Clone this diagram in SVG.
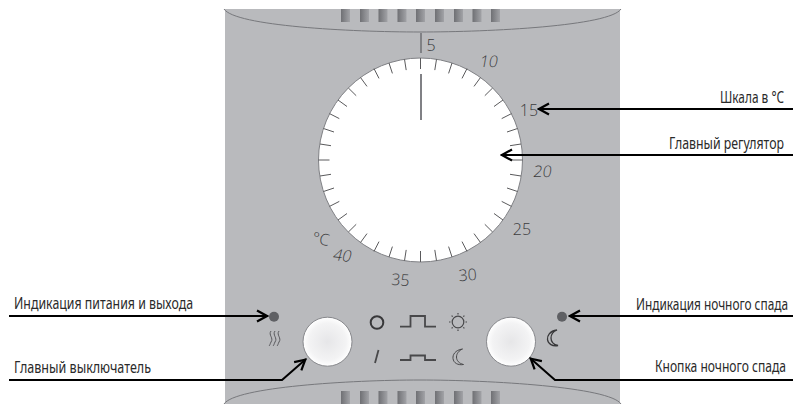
<svg xmlns="http://www.w3.org/2000/svg" width="806" height="420" viewBox="0 0 806 420">
<style>
.lb{font-family:"Noto Sans","Open Sans",sans-serif;font-size:16px;fill:#2a2a2a}
.n{font-family:"Open Sans","Noto Sans",sans-serif;font-weight:300;font-size:16px;fill:#3c3c3e;text-anchor:middle}
.c{fill:none;stroke:#000;stroke-width:2}
.i{fill:none;stroke:#48484a;stroke-width:1.2;stroke-linejoin:round}
.curve{fill:none;stroke:#77787c;stroke-width:1}
</style>
<defs>
<linearGradient id="slot" x1="0" x2="1" y1="0" y2="0"><stop offset="0" stop-color="#6f7074"/><stop offset="1" stop-color="#a2a3a7"/></linearGradient>
<radialGradient id="btn"><stop offset="0" stop-color="#e6e6e8"/><stop offset="0.75" stop-color="#f3f3f4"/><stop offset="1" stop-color="#ffffff"/></radialGradient>
<marker id="arrow" viewBox="0 0 14 14" refX="13" refY="7" markerWidth="14" markerHeight="14" markerUnits="userSpaceOnUse" orient="auto"><path d="M2 1.500 L12 7 L2 12.500" fill="none" stroke="#000" stroke-width="2.200"/></marker>
<path id="moon" d="M3.500 -8 C-4 -7 -6.500 -2 -6 1.500 C-5.500 6 -1 8.500 4.500 7.500 C0 6.500 -2.500 3.500 -2.500 0 C-2.500 -3.500 0 -6.500 3.500 -8 Z"/>
</defs>
<rect width="806" height="420" fill="#fff"/>
<g id="panel">
<path d="M225 9 H620 V404 H225 Z" fill="#b9babd"/>
<path class="curve" d="M224 9 C235 26 350 32 420 32 C490 32 610 26 621 9"/>
<path class="curve" d="M224 404 C235 387 350 380 420 380 C490 380 610 387 621 404"/>
<g fill="url(#slot)">
<rect x="341" y="9" width="9" height="13"/><rect x="360" y="9" width="9" height="13"/><rect x="378.500" y="9" width="9" height="13"/><rect x="397.500" y="9" width="9" height="13"/><rect x="416" y="9" width="9" height="13"/><rect x="435" y="9" width="9" height="13"/><rect x="454" y="9" width="9" height="13"/><rect x="472.500" y="9" width="9" height="13"/><rect x="491" y="9" width="9" height="13"/>
<rect x="341" y="391" width="9" height="13"/><rect x="360" y="391" width="9" height="13"/><rect x="378.500" y="391" width="9" height="13"/><rect x="397.500" y="391" width="9" height="13"/><rect x="416" y="391" width="9" height="13"/><rect x="435" y="391" width="9" height="13"/><rect x="454" y="391" width="9" height="13"/><rect x="472.500" y="391" width="9" height="13"/><rect x="491" y="391" width="9" height="13"/>
</g>
</g>
<g id="dial">
<circle cx="420.500" cy="160" r="102" fill="#fff" stroke="#808185" stroke-width="1"/>
<path id="ticks" fill="none" stroke="#5a5a5c" stroke-width="1" d="M420.500 58V69 M436.500 59.300L434.800 70.100 M452 63L448.600 73.400 M467 68.600L462 78.400 M480.500 77.500L474 86.400 M492.600 88L484.800 95.700 M503 100L494 106.500 M511.500 113.600L501.700 118.600 M517.500 128.500L507 132 M521 144L510 145.700 M522.500 160H511.500 M521 176L510 174.300 M517.500 191.500L507 188 M511.500 206.400L501.700 201.400 M503 220L494 213.500 M492.600 232L484.800 224.300 M480.500 242.500L474 233.600 M467 251.400L462 241.600 M452 257L448.600 246.600 M436.500 260.700L434.800 249.900 M420.500 262V251 M404.500 260.700L406.200 249.900 M389 257L392.400 246.600 M374 251.400L379 241.600 M360.500 242.500L367 233.600 M348.400 232L356.200 224.300 M338 220L347 213.500 M329.500 206.400L339.300 201.400 M323.500 191.500L334 188 M320 176L331 174.300 M318.500 160H329.500 M320 144L331 145.700 M323.500 128.500L334 132 M329.500 113.600L339.300 118.600 M338 100L347 106.500 M348.400 88L356.200 95.700 M360.500 77.500L367 86.400 M374 68.600L379 78.400 M389 63L392.400 73.400 M404.500 59.300L406.200 70.100"/>
<path d="M421 33V53 M421 74V120" stroke="#808185" stroke-width="2"/>
<text class="n" x="431" y="50.500">5</text>
<text class="n" transform="translate(488 67) skewX(-10)">10</text>
<text class="n" x="529" y="116">15</text>
<text class="n" transform="translate(542 176.500) skewX(-8)">20</text>
<text class="n" x="522" y="234.500">25</text>
<text class="n" transform="translate(468 280.500) rotate(-4)">30</text>
<text class="n" transform="translate(400 285.500) rotate(4)">35</text>
<text class="n" transform="translate(341 261) rotate(6) skewX(-10)">40</text>
<text class="n" transform="translate(320 244.500) rotate(10)">°C</text>
</g>
<g id="power-led"><circle cx="274" cy="316.700" r="5" fill="#5f6064"/></g>
<g id="heat-icon"><path d="M271 331C268 335 274 338 271 342C270 344 270 345 269 346 M275 331C272 335 278 338 275 342C274 344 274 345 273 346 M279 331C276 335 282 338 279 342C278 344 278 345 277 346" stroke="#58585c" stroke-width="1" fill="none"/></g>
<g id="main-switch"><circle cx="327.500" cy="341.700" r="24.500" fill="url(#btn)" stroke="#87888c" stroke-width="1"/></g>
<g id="modes">
<circle cx="377" cy="322.500" r="6.300" fill="none" stroke="#38383a" stroke-width="2"/>
<path d="M378.500 350L375 363" fill="none" stroke="#48484a" stroke-width="1.800"/>
<path d="M400 326.700H410.500V316H425V326.700H436" fill="none" stroke="#48484a" stroke-width="1.800"/>
<path d="M400 360H410.500V355.500H425V360H436" fill="none" stroke="#48484a" stroke-width="1.800"/>
<g class="i"><circle cx="458" cy="322" r="5.800"/><path d="M458 313V314.500 M458 329.500V331 M449 322H450.500 M465.500 322H467 M451.600 315.600L452.700 316.700 M463.300 327.300L464.400 328.400 M464.400 315.600L463.300 316.700 M452.700 327.300L451.600 328.400"/></g>
<use href="#moon" x="459" y="357" fill="none" stroke="#48484a" stroke-width="1"/>
</g>
<g id="night-switch"><circle cx="511" cy="341.700" r="24.500" fill="url(#btn)" stroke="#87888c" stroke-width="1"/></g>
<g id="night-led"><circle cx="562" cy="316.700" r="5" fill="#5f6064"/></g>
<g id="night-icon"><use href="#moon" x="553.500" y="338" fill="none" stroke="#38383a" stroke-width="1.300"/></g>
<g id="connectors">
<path class="c" d="M793 109H538" marker-end="url(#arrow)"/>
<path class="c" d="M793 155H501" marker-end="url(#arrow)"/>
<path class="c" d="M9 316H268" marker-end="url(#arrow)"/>
<path class="c" d="M9 380H282L306 359" marker-end="url(#arrow)"/>
<path class="c" d="M793 316H569" marker-end="url(#arrow)"/>
<path class="c" d="M793 380H555L530 358" marker-end="url(#arrow)"/>
</g>
<g id="labels">
<text class="lb" transform="translate(720 103) scale(.78 1)" textLength="82" lengthAdjust="spacingAndGlyphs">Шкала в °C</text>
<text class="lb" transform="translate(669 149) scale(.78 1)" textLength="147.400" lengthAdjust="spacingAndGlyphs">Главный регулятор</text>
<text class="lb" transform="translate(14 309) scale(.78 1)" textLength="229.500" lengthAdjust="spacingAndGlyphs">Индикация питания и выхода</text>
<text class="lb" transform="translate(14 373) scale(.78 1)" textLength="175.600" lengthAdjust="spacingAndGlyphs">Главный выключатель</text>
<text class="lb" transform="translate(636 310) scale(.78 1)" textLength="194.900" lengthAdjust="spacingAndGlyphs">Индикация ночного спада</text>
<text class="lb" transform="translate(655 372) scale(.78 1)" textLength="167.900" lengthAdjust="spacingAndGlyphs">Кнопка ночного спада</text>
</g>
</svg>
